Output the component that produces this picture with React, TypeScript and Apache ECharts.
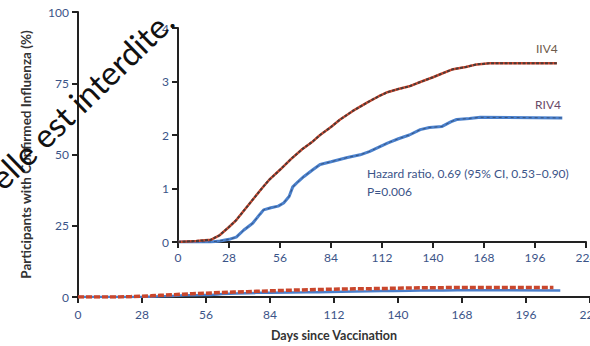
import React, { useEffect, useRef } from "react";
import * as echarts from "echarts";

const dayTicks = [0, 28, 56, 84, 112, 140, 168, 196, 224];
const mainYTicks = [0, 25, 50, 75, 100];
const insetYTicks = [0, 1, 2, 3, 4];

const iiv4Days = [0, 10, 18, 23, 28, 32, 36, 41, 46, 50, 56, 62, 68, 74, 78, 84, 89, 96, 104, 110, 115, 121, 127, 133, 140, 145, 151, 158, 164, 171, 208];
const iiv4Vals = [0, 0.02, 0.04, 0.13, 0.28, 0.41, 0.58, 0.79, 1.0, 1.16, 1.35, 1.55, 1.73, 1.88, 2.0, 2.15, 2.29, 2.45, 2.61, 2.72, 2.8, 2.86, 2.91, 2.99, 3.08, 3.15, 3.23, 3.27, 3.32, 3.34, 3.34];

const riv4Days = [0, 18, 23, 28, 32, 36, 41, 45, 47, 51, 55, 58, 61, 63, 66, 69, 74, 78, 84, 93, 100, 105, 110, 115, 121, 127, 133, 138, 145, 150, 153, 160, 166, 211];
const riv4Vals = [0, 0, 0.02, 0.05, 0.09, 0.22, 0.35, 0.52, 0.6, 0.64, 0.67, 0.73, 0.85, 1.03, 1.13, 1.22, 1.35, 1.45, 1.5, 1.58, 1.63, 1.69, 1.77, 1.85, 1.93, 2.0, 2.1, 2.14, 2.16, 2.25, 2.29, 2.31, 2.33, 2.32];

const seriesNames = ["IIV4", "RIV4"];
const annotation = ["Hazard ratio, 0.69 (95% CI, 0.53\u20130.90)", "P=0.006"];
const yTitle = "Participants with Confirmed Influenza (%)";
const xTitle = "Days since Vaccination";
const watermark = "elle est interdite.";

const FONT = "Lato";
const TICK_COLOR = "#3b5488";
const AXIS_COLOR = "#222";

function pairs(xs: number[], ys: number[]) {
  return xs.map((x, i) => [x, ys[i]]);
}

export default function App() {
  const ref = useRef<HTMLDivElement>(null);
  useEffect(() => {
    if (!ref.current) return;
    const chart = echarts.init(ref.current, null, { renderer: "svg" });
    const iiv = pairs(iiv4Days, iiv4Vals);
    const riv = pairs(riv4Days, riv4Vals);
    const axisCommon = {
      axisLine: { lineStyle: { color: AXIS_COLOR, width: 2 } },
      axisTick: { show: true, inside: false, length: 6, lineStyle: { color: AXIS_COLOR, width: 2 } },
      splitLine: { show: false },
      axisLabel: { color: TICK_COLOR, fontFamily: FONT, fontSize: 12, margin: 9 },
    };
    chart.setOption({
      animation: false,
      backgroundColor: "#fff",
      grid: [
        { left: 78, top: 12, right: 0, bottom: 49, containLabel: false, outerBoundsMode: "none" },
        { left: 178, top: 28, right: 4, bottom: 104, containLabel: false, outerBoundsMode: "none" },
      ],
      xAxis: [
        {
          ...axisCommon,
          gridIndex: 0, type: "value", min: 0, max: 224, interval: 28,
          name: xTitle, nameLocation: "middle", nameGap: 32,
          nameTextStyle: { color: "#333", fontFamily: FONT, fontWeight: "bold", fontSize: 12.5 },
          axisLabel: { ...axisCommon.axisLabel, margin: 11, showMaxLabel: true },
        },
        {
          ...axisCommon,
          gridIndex: 1, type: "value", min: 0, max: 224, interval: 28,
          axisLabel: { ...axisCommon.axisLabel, showMaxLabel: true },
        },
      ],
      yAxis: [
        {
          ...axisCommon,
          gridIndex: 0, type: "value", min: 0, max: 100, interval: 25,
          name: yTitle, nameLocation: "middle", nameGap: 45,
          nameTextStyle: { color: "#333", fontFamily: FONT, fontWeight: "bold", fontSize: 13.5 },
        },
        {
          ...axisCommon,
          gridIndex: 1, type: "value", min: 0, max: 4, interval: 1,
        },
      ],
      series: [
        {
          name: seriesNames[1], type: "line", xAxisIndex: 0, yAxisIndex: 0, data: riv,
          showSymbol: false, lineStyle: { color: "#4a7fcc", width: 2.5 }, z: 2,
        },
        {
          name: seriesNames[0], type: "line", xAxisIndex: 0, yAxisIndex: 0, data: iiv,
          showSymbol: false, lineStyle: { color: "#c9462c", width: 3.5, type: [6, 2] }, z: 3,
        },
        {
          name: seriesNames[1], type: "line", xAxisIndex: 1, yAxisIndex: 1, data: riv,
          showSymbol: false, lineStyle: { color: "#4a80cc", width: 3 }, z: 2,
        },
        {
          name: seriesNames[1] + "-o", type: "line", xAxisIndex: 1, yAxisIndex: 1, data: riv,
          showSymbol: false, lineStyle: { color: "#2a3040", width: 1, type: [3, 3], opacity: 0.55 }, z: 3,
        },
        {
          name: seriesNames[0], type: "line", xAxisIndex: 1, yAxisIndex: 1, data: iiv,
          showSymbol: false, lineStyle: { color: "#d4472c", width: 2.5 }, z: 2,
        },
        {
          name: seriesNames[0] + "-o", type: "line", xAxisIndex: 1, yAxisIndex: 1, data: iiv,
          showSymbol: false, lineStyle: { color: "#3a3a3a", width: 2, type: [3, 1.5], opacity: 0.9 }, z: 3,
        },
      ],
      graphic: [
        {
          type: "text", left: 536, top: 42,
          style: { text: seriesNames[0], fill: "#6e5a4a", font: `12px ${FONT}` },
        },
        {
          type: "text", left: 535, top: 98,
          style: { text: seriesNames[1], fill: "#6a4a68", font: `12px ${FONT}` },
        },
        {
          type: "text", left: 367, top: 164,
          style: { text: annotation.join("\n"), fill: "#3b5488", font: `12px ${FONT}`, lineHeight: 18 },
        },
        {
          type: "text", x: 81, y: 99, rotation: (44 * Math.PI) / 180, z: 100,
          style: {
            text: watermark, fill: "#111", font: `33px ${FONT}`,
            textAlign: "center", textVerticalAlign: "middle",
          },
        },
      ],
    });
    return () => chart.dispose();
  }, []);
  return (
    <div
      ref={ref}
      style={{ position: "fixed", left: 0, top: 0, width: 590, height: 346 }}
    />
  );
}
